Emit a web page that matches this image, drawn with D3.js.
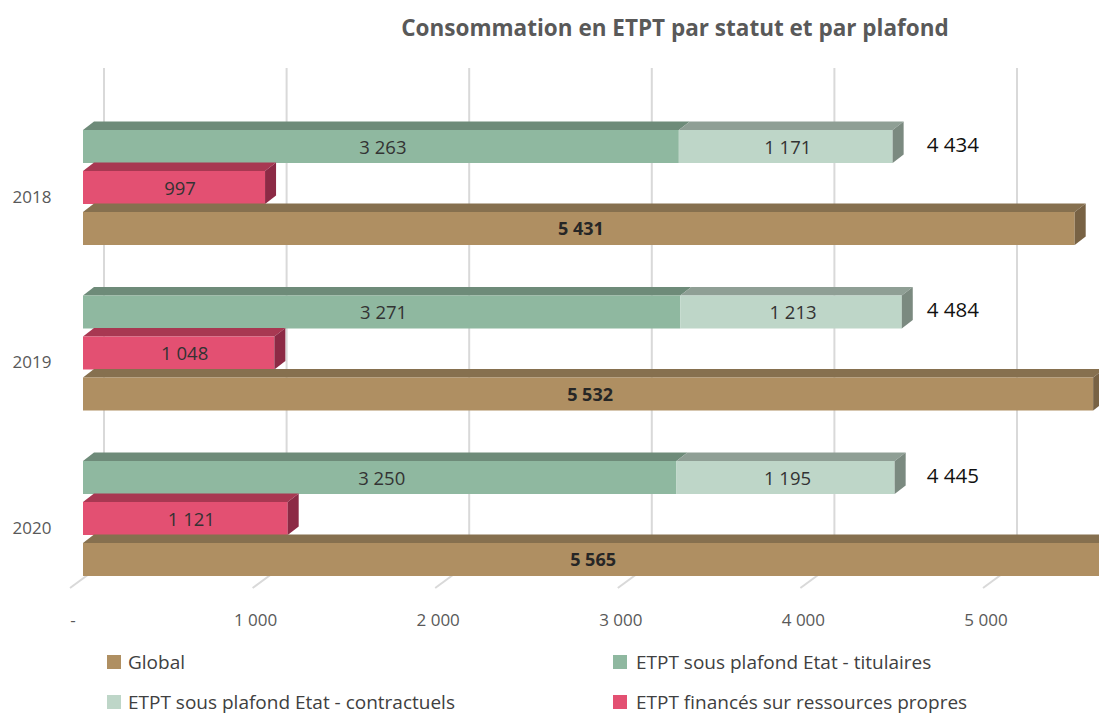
<!DOCTYPE html>
<html>
<head>
<meta charset="utf-8">
<script src="https://cdn.jsdelivr.net/npm/d3@7"></script>
<style>
  body { margin: 0; background: #fff; }
  text { font-family: "Open Sans", "Noto Sans", sans-serif; }
</style>
</head>
<body>
<svg id="chart" width="1099" height="715"></svg>
<script>
// data
const years = ['2018', '2019', '2020'];
const titulaires = [3263, 3271, 3250];
const contractuels = [1171, 1213, 1195];
const totauxPlafond = [4434, 4484, 4445];
const ressourcesPropres = [997, 1048, 1121];
const globalEtpt = [5431, 5532, 5565];
const ticks = [0, 1000, 2000, 3000, 4000, 5000];
const legendNames = ['Global', 'ETPT sous plafond Etat - titulaires',
  'ETPT sous plafond Etat - contractuels', 'ETPT financés sur ressources propres'];

const colors = {
  global: { front: '#AF8F62', top: '#86704F', side: '#786244' },
  tit: { front: '#8FB8A0', top: '#6E8B79', side: '#62796B' },
  con: { front: '#BED6C8', top: '#8F9F95', side: '#7B8A80' },
  rp: { front: '#E35072', top: '#A83852', side: '#8C2A45' }
};

const svg = d3.select('#chart');
const fr = d3.formatLocale({ decimal: ',', thousands: ' ', grouping: [3], currency: ['', '€'] });
const fmt = fr.format(',d');

// back wall scale; bars sit in front of it
const x = d3.scaleLinear().domain([0, 5000]).range([104, 1017]);
const frontDx = -21;      // bar front face offset from the back wall
const floorDx = -34;      // front edge of the floor
const depthX = 11, depthY = 8.5; // bar depth projection
const wallTop = 68, wallBottom = 563, floorFront = 588;

const y = d3.scaleBand().domain(years).range([130, 130 + 3 * 165.5]).padding(0);
const yIn = d3.scaleBand().domain(['stack', 'rp', 'global']).range([0, 115])
  .paddingInner(0.195).paddingOuter(0);

const xf = v => x(v) + frontDx;

// title
svg.append('text')
  .attr('x', 675).attr('y', 36)
  .attr('text-anchor', 'middle')
  .style('font-size', '22.5px').style('font-weight', 'bold')
  .style('fill', '#595959')
  .text('Consommation en ETPT par statut et par plafond');

// gridlines on back wall and floor
const grid = svg.append('g');
grid.selectAll('line.v')
  .data(ticks)
  .join('line')
  .attr('class', 'v')
  .attr('x1', d => x(d)).attr('x2', d => x(d))
  .attr('y1', wallTop).attr('y2', wallBottom)
  .attr('stroke', '#D9D9D9').attr('stroke-width', 2);
grid.selectAll('line.f')
  .data(ticks)
  .join('line')
  .attr('class', 'f')
  .attr('x1', d => x(d)).attr('y1', wallBottom)
  .attr('x2', d => x(d) + floorDx).attr('y2', floorFront)
  .attr('stroke', '#D9D9D9').attr('stroke-width', 2);

// tick labels
svg.append('g').selectAll('text')
  .data(ticks)
  .join('text')
  .attr('x', d => x(d) + floorDx + 3)
  .attr('y', 626)
  .attr('text-anchor', 'middle')
  .style('font-size', '17px').style('fill', '#595959')
  .text(d => d === 0 ? '-' : fmt(d));

// category labels
svg.append('g').selectAll('text')
  .data(years)
  .join('text')
  .attr('x', 32)
  .attr('y', d => y(d) + yIn('rp') + yIn.bandwidth() / 2 + 15)
  .attr('text-anchor', 'middle')
  .style('font-size', '17px').style('fill', '#595959')
  .text(d => d);

// draws one 3D box segment
function box(g, x0, x1, yt, h, c, withSide) {
  const yb = yt + h;
  g.append('path')
    .attr('d', `M${x0},${yt}L${x0 + depthX},${yt - depthY}L${x1 + depthX},${yt - depthY}L${x1},${yt}Z`)
    .attr('fill', c.top);
  g.append('rect')
    .attr('x', x0).attr('y', yt)
    .attr('width', x1 - x0).attr('height', h)
    .attr('fill', c.front);
  if (withSide) {
    g.append('path')
      .attr('d', `M${x1},${yt}L${x1 + depthX},${yt - depthY}L${x1 + depthX},${yb - depthY}L${x1},${yb}Z`)
      .attr('fill', c.side);
  }
}

const bars = svg.append('g');
const lbl = svg.append('g');
const bh = yIn.bandwidth();
const totalX = xf(d3.max(totauxPlafond)) + 25;

years.forEach((yr, i) => {
  const g = bars.append('g');
  // stacked bar
  const ys = y(yr) + yIn('stack');
  box(g, xf(0), xf(titulaires[i]), ys, bh, colors.tit, false);
  box(g, xf(titulaires[i]), xf(titulaires[i] + contractuels[i]), ys, bh, colors.con, true);
  // ressources propres
  const yr2 = y(yr) + yIn('rp');
  box(g, xf(0), xf(ressourcesPropres[i]), yr2, bh, colors.rp, true);
  // global
  const yg = y(yr) + yIn('global');
  box(g, xf(0), xf(globalEtpt[i]), yg, bh, colors.global, true);

  const mid = bh / 2 + 7;
  lbl.append('text')
    .attr('x', (xf(0) + xf(titulaires[i])) / 2 + 2).attr('y', ys + mid)
    .attr('text-anchor', 'middle').style('font-size', '18.5px').style('fill', '#333')
    .text(fmt(titulaires[i]));
  lbl.append('text')
    .attr('x', (xf(titulaires[i]) + xf(titulaires[i] + contractuels[i])) / 2 + 2).attr('y', ys + mid)
    .attr('text-anchor', 'middle').style('font-size', '18.5px').style('fill', '#333')
    .text(fmt(contractuels[i]));
  lbl.append('text')
    .attr('x', totalX).attr('y', ys + mid - 2)
    .attr('text-anchor', 'start').style('font-size', '20.5px').style('fill', '#111')
    .text(fmt(totauxPlafond[i]));
  lbl.append('text')
    .attr('x', (xf(0) + xf(ressourcesPropres[i])) / 2 + 6).attr('y', yr2 + mid)
    .attr('text-anchor', 'middle').style('font-size', '18.5px').style('fill', '#333')
    .text(fmt(ressourcesPropres[i]));
  lbl.append('text')
    .attr('x', (xf(0) + xf(globalEtpt[i])) / 2 + 2).attr('y', yg + mid)
    .attr('text-anchor', 'middle').style('font-size', '18px').style('font-weight', 'bold')
    .style('fill', '#262626')
    .text(fmt(globalEtpt[i]));
});

// legend
const legendColors = [colors.global.front, colors.tit.front, colors.con.front, colors.rp.front];
const legend = svg.append('g');
const items = legend.selectAll('g')
  .data(legendNames)
  .join('g')
  .attr('transform', (d, i) => `translate(${i % 2 === 0 ? 107 : 613}, ${i < 2 ? 655 : 695})`);
items.append('rect')
  .attr('width', 14).attr('height', 14)
  .attr('fill', (d, i) => legendColors[i]);
items.append('text')
  .attr('x', (d, i) => i % 2 === 0 ? 21 : 23)
  .attr('y', 14)
  .style('font-size', '19px').style('fill', '#404040')
  .text(d => d);
</script>
</body>
</html>
